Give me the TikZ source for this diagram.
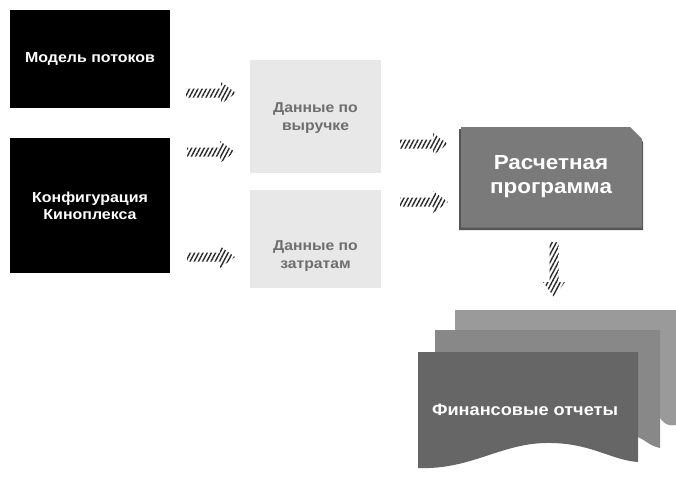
\documentclass[tikz,border=0pt]{standalone}
\usepackage{fontspec}
\setmainfont{Liberation Sans}[FakeStretch=1.1]
\usetikzlibrary{patterns.meta}
\definecolor{lightbox}{HTML}{E8E8E8}
\definecolor{lighttext}{HTML}{6E6E6E}
\definecolor{calcfill}{HTML}{7A7A7A}
\definecolor{calcdark}{HTML}{555555}
\definecolor{sheetback}{HTML}{9A9A9A}
\definecolor{sheetmid}{HTML}{888888}
\definecolor{sheetfront}{HTML}{666666}
\definecolor{hatch}{HTML}{2A2A2A}
\tikzset{
  blackbox/.style={fill=black,text=white,font=\bfseries\fontsize{14.5}{17}\selectfont,align=center},
  lightbox/.style={text=lighttext,font=\bfseries\fontsize{14.3}{18.5}\selectfont,align=center},
  hatchfill/.style={pattern={Lines[angle=62,distance=3.7pt,line width=1.4pt]},pattern color=hatch},
  pics/harrow/.style={code={
    \path[hatchfill] (0,-4.5) -- (#1-15,-4.5) -- (#1-15,-11) -- (#1,0) -- (#1-15,11) -- (#1-15,4.5) -- (0,4.5) -- cycle;}},
  bigtext/.style={text=white,font=\bfseries\fontsize{20.4}{24}\selectfont,align=center},
  doctext/.style={text=white,font=\bfseries\fontsize{16.5}{19}\selectfont}
}
\begin{document}
\begin{tikzpicture}[x=1pt,y=-1pt]
\useasboundingbox (0,0) rectangle (676,477);
% black boxes
\node[blackbox,minimum width=160,minimum height=98] (m) at (90,59) {Модель потоков};
\node[blackbox,minimum width=160,minimum height=135] (k) at (90,205.5) {Конфигурация\\Киноплекса};
% light boxes
\path[fill=lightbox] (250,60) rectangle (381,173);
\node[lightbox] (r) at (315.5,118) {Данные по\\выручке};
\path[fill=lightbox] (250,190) rectangle (381,288);
\node[lightbox] (z) at (315.5,256) {Данные по\\затратам};
% calc box
\path[fill=calcdark] (459,129) -- (630,129) -- (643,142) -- (643,230) -- (459,230) -- cycle;
\path[fill=calcfill] (461,127) -- (630,127) -- (642,139) -- (642,227.5) -- (461,227.5) -- cycle;
\node[bigtext] (p) at (551,177) {Расчетная\\программа};
% document stack
\path[fill=sheetback] (455,310) -- (676,310) -- (676,425) .. controls (665,427) and (662,420) .. (660,418) -- (660,330) -- (455,330) -- cycle;
\path[fill=sheetmid] (435,330) -- (660,330) -- (660,448) .. controls (650,446) and (645,440) .. (638,437) -- (638,352) -- (435,352) -- cycle;
\path[fill=sheetfront] (418,352) -- (638,352) -- (638,462)
  .. controls (610,460) and (590,442) .. (545,443)
  .. controls (500,444) and (470,470) .. (418,468) -- cycle;
\node[doctext] (f) at (525,410) {Финансовые отчеты};
% hatched arrows
\coordinate (s1) at (186,93);
\coordinate (s2) at (187,152);
\coordinate (s3) at (187,257);
\coordinate (s4) at (400,144);
\coordinate (s5) at (400,202);
\coordinate (s6) at (554,242);
\pic at (s1) {harrow=50};
\pic at (s2) {harrow=48};
\pic at (s3) {harrow=48};
\pic at (s4) {harrow=48};
\pic at (s5) {harrow=48};
\pic[rotate=-90] at (s6) {harrow=55};
\end{tikzpicture}
\end{document}
